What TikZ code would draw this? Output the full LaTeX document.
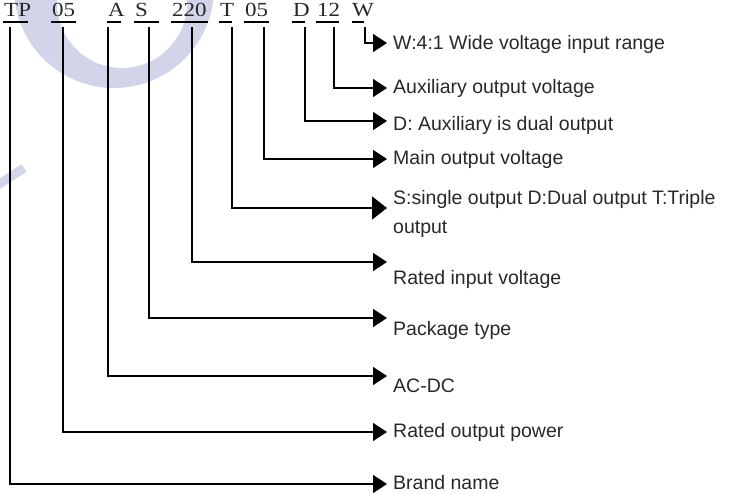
\documentclass[tikz,border=0pt]{standalone}
\usepackage{fontspec}
\setmainfont{Liberation Sans}
\newfontfamily\codefont{Liberation Serif}
\usetikzlibrary{arrows.meta}
\definecolor{wm}{RGB}{210,212,234}
\definecolor{txt}{RGB}{40,40,40}
\begin{document}
\begin{tikzpicture}[x=1pt,y=-1pt,
  code/.style={inner sep=0pt,anchor=base west,text=txt,font=\codefont\fontsize{20}{20}\selectfont},
  uline/.style={line width=2pt},
  conn/.style={line width=1.6pt,-{Triangle[length=14pt,width=18pt]}},
  bigconn/.style={line width=1.6pt,-{Triangle[length=15pt,width=23pt]}},
  lab/.style={inner sep=0pt,anchor=west,align=left,text=txt,font=\fontsize{19.5}{29}\selectfont}]
\useasboundingbox (0,0) rectangle (731,494);
% watermark
\begin{scope}
\clip (0,0) rectangle (731,494);
\fill[wm,even odd rule] (114,-12) circle[radius=100pt] (122,3) circle[radius=65pt];
\draw[wm,line width=9pt] (-5,187) -- (24,168);
\end{scope}
% code letters
\node[code] (cTP) at (4,17) {\scalebox{1.15}[1]{TP}};
\node[code] (cP) at (52,17) {\scalebox{1.15}[1]{05}};
\node[code] (cA) at (108,17) {\scalebox{1.15}[1]{A}};
\node[code] (cS) at (135,17) {\scalebox{1.15}[1]{S}};
\node[code] (cV) at (172,17) {\scalebox{1.15}[1]{220}};
\node[code] (cT) at (220,17) {\scalebox{1.15}[1]{T}};
\node[code] (cM) at (245,17) {\scalebox{1.15}[1]{05}};
\node[code] (cD) at (293,17) {\scalebox{1.15}[1]{D}};
\node[code] (cX) at (317,17) {\scalebox{1.15}[1]{12}};
\node[code] (cW) at (352,17) {\scalebox{1.15}[1]{W}};
% underlines
\draw[uline] (3,22) -- (28,22);
\draw[uline] (51,22) -- (76,22);
\draw[uline] (107,22) -- (121,22);
\draw[uline] (134,22) -- (159,22);
\draw[uline] (171,22) -- (208,22);
\draw[uline] (219,22) -- (232,22);
\draw[uline] (244,22) -- (269,22);
\draw[uline] (292,22) -- (305,22);
\draw[uline] (316,22) -- (339,22);
\draw[uline] (352,22) -- (364,22);
% start points
\coordinate (sTP) at (10,27);
\coordinate (sP) at (63,27);
\coordinate (sA) at (108,27);
\coordinate (sS) at (149,27);
\coordinate (sV) at (192,27);
\coordinate (sT) at (232,27);
\coordinate (sM) at (264,27);
\coordinate (sD) at (305,27);
\coordinate (sX) at (334,27);
\coordinate (sW) at (365,27);
% arrow tips
\coordinate (tW) at (387,43);
\coordinate (tX) at (387,88);
\coordinate (tD) at (387,121);
\coordinate (tM) at (387,159);
\coordinate (tT) at (387,208);
\coordinate (tV) at (387,262);
\coordinate (tS) at (387,318);
\coordinate (tA) at (387,376);
\coordinate (tP) at (387,432);
\coordinate (tTP) at (387,484);
% labels
\node[lab] (lW) at (393,44) {W:4:1 Wide voltage input range};
\node[lab] (lX) at (393,88) {Auxiliary output voltage};
\node[lab] (lD) at (393,125) {D: Auxiliary is dual output};
\node[lab] (lM) at (393,159) {Main output voltage};
\node[lab] (lT) at (393,213.5) {S:single output D:Dual output T:Triple\\output};
\node[lab] (lV) at (393,279) {Rated input voltage};
\node[lab] (lS) at (393,330) {Package type};
\node[lab] (lA) at (393,386) {AC-DC};
\node[lab] (lP) at (393,432) {Rated output power};
\node[lab] (lTP) at (393,482.5) {Brand name};
% connectors
\draw[conn] (sW) |- (tW);
\draw[conn] (sX) |- (tX);
\draw[conn] (sD) |- (tD);
\draw[conn] (sM) |- (tM);
\draw[bigconn] (sT) |- (tT);
\draw[conn] (sV) |- (tV);
\draw[conn] (sS) |- (tS);
\draw[conn] (sA) |- (tA);
\draw[conn] (sP) |- (tP);
\draw[conn] (sTP) |- (tTP);
\end{tikzpicture}
\end{document}
